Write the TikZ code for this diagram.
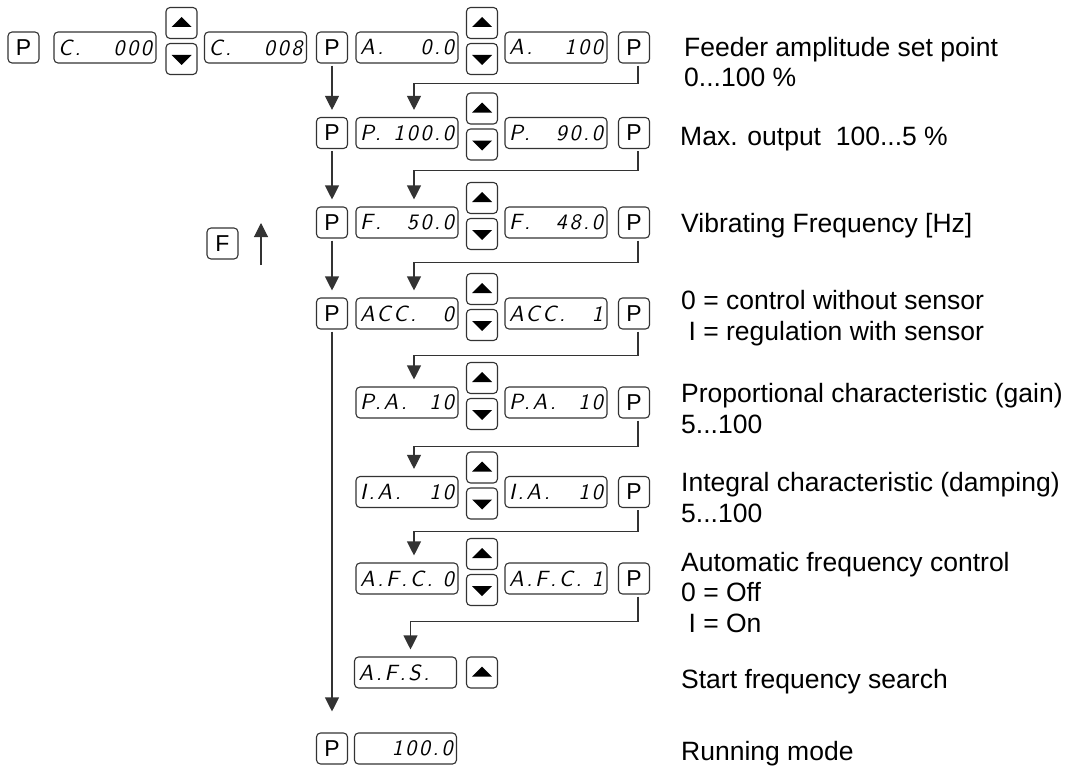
\documentclass[tikz,border=0pt]{standalone}
\usepackage{fontspec}
\setmainfont{Liberation Sans}
\newfontfamily\segfont{lmsans10-oblique.otf}[LetterSpace=12]
\usetikzlibrary{arrows.meta}

\tikzset{
    keybox/.style={draw=black!80, line width=1.1bp, rounded corners=4bp,
        minimum width=31bp, minimum height=31bp, inner sep=0pt,
        font=\fontsize{23bp}{23bp}\selectfont},
    lcd/.style={draw=black!80, line width=1.1bp, rounded corners=4bp,
        minimum height=31bp, text width=94bp, inner xsep=4bp, inner ysep=0pt,
        font=\fontsize{22bp}{22bp}\segfont},
    upkey/.style={keybox, path picture={
        \fill[sharp corners] ([shift={(-10,4)}]path picture bounding box.center)
            -- ++(20,0) -- ++(-10,-10) -- cycle;}},
    downkey/.style={keybox, path picture={
        \fill[sharp corners] ([shift={(-10,-4)}]path picture bounding box.center)
            -- ++(20,0) -- ++(-10,10) -- cycle;}},
    flow/.style={draw=black!80, line width=1.1bp,
        -{Triangle[width=14bp, length=14bp]}, shorten <=2bp, shorten >=7bp},
    note/.style={anchor=base west, align=left, inner sep=0pt,
        font=\fontsize{26.5bp}{30.5bp}\selectfont}
}

\begin{document}
\begin{tikzpicture}[x=1bp, y=-1bp]
        \useasboundingbox (0,0) rectangle (1066,769);
        % first row
        \node[keybox] (p0) at (23.5,47.5) {P};
        \node[lcd] (c1) at (105,47.5) {C.\hfill 000};
        \node[upkey] (u0) at (181.5,23) {};
        \node[downkey] (dn0) at (181.5,59) {};
        \node[lcd] (c2) at (255.5,47.5) {C.\hfill 008};
        \node[keybox] (pl1) at (332,47.5) {P};
        \node[lcd] (a1) at (407,47.5) {A.\hfill 0.0};
        \node[upkey] (u1) at (482,23) {};
        \node[downkey] (dn1) at (482,59) {};
        \node[lcd] (b1) at (556,47.5) {A.\hfill 100};
        \node[keybox] (pr1) at (634,47.5) {P};
        % max. output
        \node[keybox] (pl2) at (332,133) {P};
        \node[lcd] (a2) at (407,133) {P.\hfill 100.0};
        \node[upkey] (u2) at (482,108.5) {};
        \node[downkey] (dn2) at (482,144.5) {};
        \node[lcd] (b2) at (556,133) {P.\hfill 90.0};
        \node[keybox] (pr2) at (634,133) {P};
        % frequency
        \node[keybox] (pl3) at (332,222.5) {P};
        \node[lcd] (a3) at (407,222.5) {F.\hfill 50.0};
        \node[upkey] (u3) at (482,198) {};
        \node[downkey] (dn3) at (482,234) {};
        \node[lcd] (b3) at (556,222.5) {F.\hfill 48.0};
        \node[keybox] (pr3) at (634,222.5) {P};
        % sensor
        \node[keybox] (pl4) at (332,313.5) {P};
        \node[lcd] (a4) at (407,313.5) {ACC.\hfill 0};
        \node[upkey] (u4) at (482,289) {};
        \node[downkey] (dn4) at (482,325) {};
        \node[lcd] (b4) at (556,313.5) {ACC.\hfill 1};
        \node[keybox] (pr4) at (634,313.5) {P};
        % gain
        \node[lcd] (a5) at (407,402.5) {P.A.\hfill 10};
        \node[upkey] (u5) at (482,378) {};
        \node[downkey] (dn5) at (482,414) {};
        \node[lcd] (b5) at (556,402.5) {P.A.\hfill 10};
        \node[keybox] (pr5) at (634,402.5) {P};
        % damping
        \node[lcd] (a6) at (407,492) {I.A.\hfill 10};
        \node[upkey] (u6) at (482,467.5) {};
        \node[downkey] (dn6) at (482,503.5) {};
        \node[lcd] (b6) at (556,492) {I.A.\hfill 10};
        \node[keybox] (pr6) at (634,492) {P};
        % afc
        \node[lcd] (a7) at (407,578.5) {A.F.C.\hfill 0};
        \node[upkey] (u7) at (482,554) {};
        \node[downkey] (dn7) at (482,590) {};
        \node[lcd] (b7) at (556,578.5) {A.F.C.\hfill 1};
        \node[keybox] (pr7) at (634,578.5) {P};
        % search and run
        \node[lcd] (a8) at (405.5,672.5) {A.F.S.};
        \node[upkey] (u8) at (482,672.5) {};
        \node[keybox] (pl9) at (332,748.5) {P};
        \node[lcd] (a9) at (405.5,748.5) {\hfill 100.0};
        % F key
        \node[keybox] (fkey) at (222.5,243.5) {F};
        \coordinate (fbot) at (261,265);
        \coordinate (ftop) at (261,223);
        \draw[flow, shorten <=0pt, shorten >=0pt] (fbot) -- (ftop);
        % left column
        \draw[flow] (pl1) -- (pl2);
        \draw[flow] (pl2) -- (pl3);
        \draw[flow] (pl3) -- (pl4);
        \draw[flow, shorten >=21bp] (pl4) -- (pl9);
        % right returns
        \draw[flow] ([xshift=4bp]pr1.south) -- ++(0,20) -| ([xshift=7bp]a2.north);
        \draw[flow] ([xshift=4bp]pr2.south) -- ++(0,21) -| ([xshift=7bp]a3.north);
        \draw[flow] ([xshift=4bp]pr3.south) -- ++(0,24) -| ([xshift=7bp]a4.north);
        \draw[flow] ([xshift=4bp]pr4.south) -- ++(0,26) -| ([xshift=7bp]a5.north);
        \draw[flow] ([xshift=4bp]pr5.south) -- ++(0,28) -| ([xshift=7bp]a6.north);
        \draw[flow] ([xshift=4bp]pr6.south) -- ++(0,23) -| ([xshift=7bp]a7.north);
        \draw[flow] ([xshift=4bp]pr7.south) -- ++(0,27) -| ([xshift=5bp]a8.north);
        % notes (base = last line)
        \node[note] (t1) at (684,87) {Feeder amplitude set point\\0...100 \%};
        \node[note] (t2) at (680,145) {Max. output\ \ 100...5 \%};
        \node[note] (t3) at (681,232) {Vibrating Frequency [Hz]};
        \node[note] (t4) at (681,340) {0 = control without sensor\\\ I = regulation with sensor};
        \node[note] (t5) at (681,433) {Proportional characteristic (gain)\\5...100};
        \node[note] (t6) at (681,522) {Integral characteristic (damping)\\5...100};
        \node[note] (t7) at (681,632) {Automatic frequency control\\0 = Off\\\ I = On};
        \node[note] (t8) at (681,688) {Start frequency search};
        \node[note] (t9) at (681,760) {Running mode};
\end{tikzpicture}
\end{document}
